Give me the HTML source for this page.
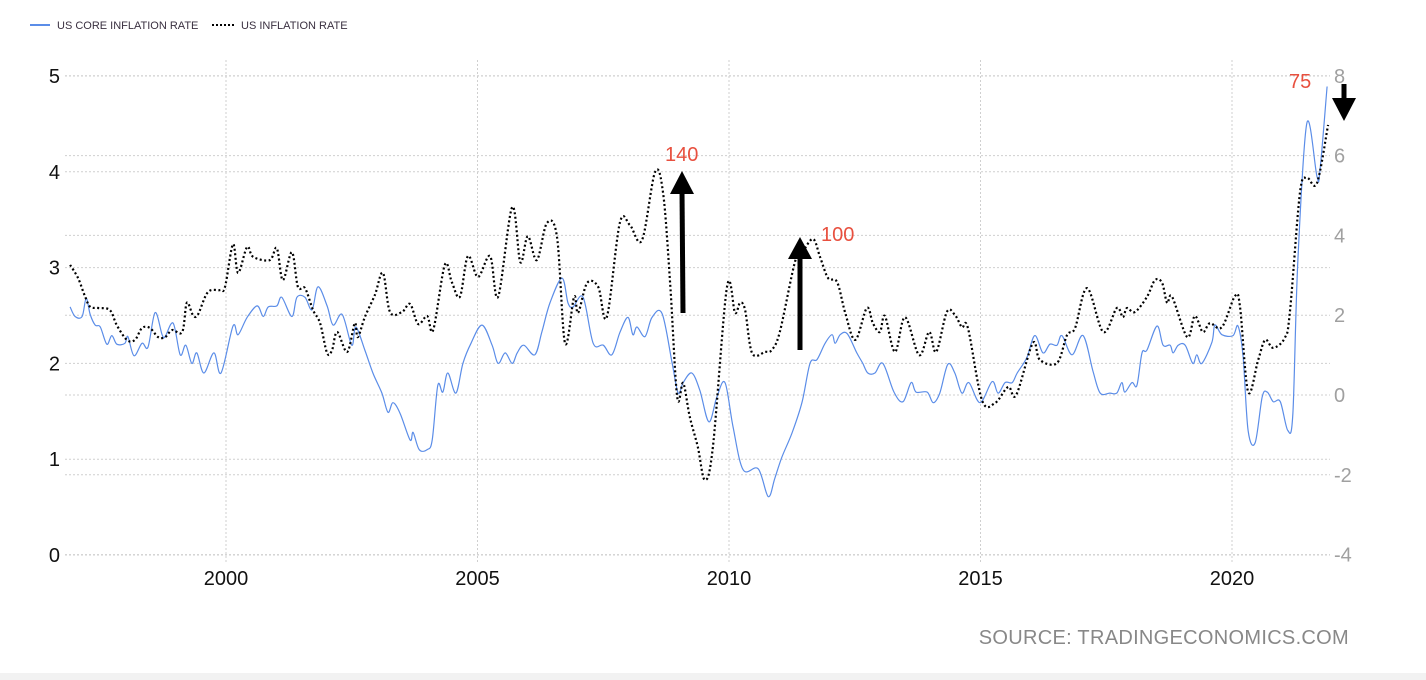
<!DOCTYPE html>
<html><head><meta charset="utf-8"><style>
html,body{margin:0;padding:0;background:#fff;}
body{width:1426px;height:680px;overflow:hidden;position:relative;font-family:"Liberation Sans",sans-serif;}
svg{position:absolute;left:0;top:0;}
</style></head><body>
<svg id="chart" width="1426" height="680" xmlns="http://www.w3.org/2000/svg">
  <g id="grid"></g>
  <g id="axes"></g>
  <g id="series"></g>
  <g>
    <line x1="30" y1="25" x2="50" y2="25" stroke="#5b8de8" stroke-width="2"/>
    <text x="57" y="29" font-size="11" fill="#3a3040">US CORE INFLATION RATE</text>
    <line x1="212" y1="25" x2="235" y2="25" stroke="#000" stroke-width="2" stroke-dasharray="2,2"/>
    <text x="241" y="29" font-size="11" fill="#3a3040">US INFLATION RATE</text>
  </g>
  <g>
    <text x="665" y="161" font-size="20" fill="#e8503f">140</text>
    <line x1="683" y1="313" x2="682" y2="190" stroke="#000" stroke-width="5"/>
    <polygon points="670,194 694,194 682,171" fill="#000"/>
    <text x="821" y="241" font-size="20" fill="#e8503f">100</text>
    <line x1="800" y1="350" x2="800" y2="255" stroke="#000" stroke-width="5"/>
    <polygon points="788,259 812,259 800,237" fill="#000"/>
    <text x="1289" y="88" font-size="20" fill="#e8503f">75</text>
    <line x1="1344" y1="84" x2="1344" y2="102" stroke="#000" stroke-width="5"/>
    <polygon points="1332,98 1356,98 1344,121" fill="#000"/>
  </g>
  <text x="1349" y="644" font-size="20" fill="#888" text-anchor="end" letter-spacing="0.3">SOURCE: TRADINGECONOMICS.COM</text>
  <rect x="0" y="673" width="1426" height="7" fill="#f2f2f2"/>
</svg>
<script>
const coreDates=[1996.90,1997.00,1997.14,1997.22,1997.30,1997.40,1997.50,1997.63,1997.73,1997.83,1997.99,1998.05,1998.17,1998.33,1998.45,1998.59,1998.73,1998.79,1998.95,1999.09,1999.20,1999.32,1999.42,1999.56,1999.76,1999.90,2000.14,2000.24,2000.42,2000.62,2000.74,2000.84,2001.01,2001.11,2001.31,2001.41,2001.57,2001.71,2001.83,2002.01,2002.13,2002.31,2002.50,2002.58,2002.76,2002.92,2003.10,2003.22,2003.32,2003.46,2003.66,2003.72,2003.84,2004.00,2004.10,2004.21,2004.31,2004.41,2004.57,2004.71,2004.87,2005.09,2005.29,2005.41,2005.55,2005.69,2005.79,2005.92,2006.14,2006.28,2006.44,2006.68,2006.80,2006.90,2007.10,2007.30,2007.50,2007.67,2007.83,2007.99,2008.09,2008.17,2008.33,2008.47,2008.67,2008.87,2008.99,2009.09,2009.26,2009.42,2009.60,2009.76,2009.92,2010.08,2010.28,2010.58,2010.78,2010.91,2011.05,2011.25,2011.45,2011.61,2011.75,2011.91,2012.05,2012.11,2012.21,2012.35,2012.54,2012.66,2012.76,2012.90,2013.06,2013.28,2013.46,2013.62,2013.72,2013.94,2014.06,2014.19,2014.35,2014.49,2014.63,2014.77,2014.99,2015.23,2015.35,2015.49,2015.63,2015.73,2015.92,2016.08,2016.24,2016.38,2016.52,2016.62,2016.82,2017.04,2017.24,2017.38,2017.57,2017.71,2017.81,2017.87,2018.01,2018.11,2018.21,2018.31,2018.51,2018.63,2018.77,2018.83,2018.93,2019.07,2019.22,2019.30,2019.40,2019.60,2019.66,2019.80,2020.02,2020.12,2020.22,2020.32,2020.46,2020.60,2020.70,2020.82,2020.96,2021.11,2021.21,2021.31,2021.49,2021.69,2021.75,2021.89];
const coreValues=[2.59,2.49,2.49,2.68,2.51,2.40,2.38,2.20,2.29,2.20,2.21,2.28,2.08,2.21,2.17,2.53,2.30,2.28,2.42,2.09,2.19,2.00,2.11,1.90,2.11,1.90,2.39,2.30,2.48,2.60,2.49,2.59,2.60,2.69,2.49,2.69,2.69,2.56,2.80,2.60,2.40,2.51,2.19,2.38,2.14,1.90,1.69,1.49,1.59,1.48,1.20,1.28,1.10,1.10,1.20,1.77,1.70,1.90,1.69,2.00,2.21,2.40,2.19,2.00,2.11,2.00,2.11,2.19,2.09,2.33,2.63,2.89,2.63,2.59,2.69,2.21,2.19,2.09,2.32,2.48,2.30,2.38,2.28,2.48,2.52,2.00,1.69,1.80,1.90,1.72,1.39,1.65,1.80,1.34,0.89,0.90,0.61,0.80,1.02,1.27,1.59,2.00,2.04,2.21,2.30,2.21,2.30,2.31,2.11,2.00,1.90,1.90,2.00,1.70,1.60,1.80,1.70,1.70,1.59,1.69,1.99,1.90,1.69,1.80,1.59,1.81,1.69,1.80,1.80,1.90,2.06,2.29,2.11,2.20,2.19,2.29,2.09,2.29,1.91,1.69,1.69,1.69,1.80,1.70,1.80,1.77,2.11,2.14,2.39,2.19,2.19,2.11,2.19,2.19,2.00,2.09,2.00,2.22,2.40,2.30,2.29,2.39,2.07,1.30,1.17,1.65,1.70,1.60,1.60,1.30,1.48,3.08,4.51,3.95,4.02,4.89];
const inflDates=[1996.90,1997.06,1997.20,1997.30,1997.46,1997.69,1997.83,1998.03,1998.19,1998.33,1998.49,1998.65,1998.79,1998.93,1999.13,1999.22,1999.34,1999.44,1999.64,1999.88,1999.98,2000.14,2000.24,2000.42,2000.54,2000.87,2001.01,2001.13,2001.31,2001.43,2001.57,2001.73,2001.87,2002.01,2002.11,2002.21,2002.41,2002.56,2002.62,2002.76,2002.96,2003.12,2003.26,2003.50,2003.66,2003.82,2004.00,2004.12,2004.35,2004.49,2004.65,2004.81,2005.01,2005.25,2005.41,2005.69,2005.85,2006.00,2006.18,2006.38,2006.58,2006.74,2006.92,2007.00,2007.18,2007.40,2007.57,2007.83,2008.03,2008.27,2008.53,2008.69,2008.83,2008.97,2009.09,2009.22,2009.38,2009.52,2009.68,2009.96,2010.12,2010.22,2010.32,2010.46,2010.72,2010.85,2011.01,2011.31,2011.45,2011.67,2011.81,2011.97,2012.15,2012.31,2012.51,2012.74,2012.86,2013.00,2013.10,2013.30,2013.50,2013.78,2013.98,2014.12,2014.33,2014.49,2014.63,2014.75,2015.03,2015.29,2015.55,2015.71,2016.04,2016.18,2016.52,2016.72,2016.88,2017.12,2017.44,2017.71,2017.83,2017.91,2018.07,2018.31,2018.47,2018.61,2018.71,2018.81,2019.11,2019.26,2019.42,2019.56,2019.80,2020.06,2020.16,2020.32,2020.52,2020.66,2020.82,2021.05,2021.15,2021.35,2021.49,2021.69,2021.91];
const inflValues=[3.26,2.93,2.46,2.21,2.18,2.13,1.75,1.38,1.38,1.68,1.68,1.45,1.45,1.63,1.58,2.31,2.01,2.01,2.58,2.63,2.71,3.78,3.06,3.71,3.46,3.38,3.68,2.88,3.58,2.71,2.68,2.13,1.80,1.05,1.13,1.58,1.08,1.80,1.45,1.95,2.51,3.06,2.08,2.08,2.28,1.78,1.98,1.63,3.26,2.83,2.46,3.48,2.96,3.48,2.46,4.71,3.33,3.98,3.38,4.31,3.96,1.30,2.46,2.06,2.81,2.71,1.95,4.31,4.26,3.88,5.59,5.06,2.81,-0.05,0.30,-0.55,-1.30,-2.13,-1.30,2.71,2.06,2.31,2.13,1.05,1.08,1.13,1.58,3.33,3.56,3.91,3.46,2.93,2.83,2.06,1.38,2.18,1.80,1.58,1.98,1.08,1.95,1.00,1.58,1.08,2.08,2.01,1.70,1.68,-0.13,-0.20,0.20,0.00,1.30,0.88,0.80,1.50,1.68,2.68,1.58,2.18,1.95,2.18,2.08,2.46,2.88,2.81,2.31,2.46,1.45,1.98,1.58,1.80,1.70,2.48,2.21,0.08,0.88,1.38,1.18,1.43,2.06,5.06,5.44,5.31,6.77];
const leftTicks=[0,1,2,3,4,5];
const rightTicks=[-4,-2,0,2,4,6,8];
const xTicks=[2000,2005,2010,2015,2020];

const NS='http://www.w3.org/2000/svg';
const X0=226, XPY=50.3;
function xScale(y){return X0+(y-2000)*XPY;}
function yLeft(v){return 555-v*95.8;}
function yRight(v){return 395-v*39.9;}
function mk(tag,attrs,parent){const e=document.createElementNS(NS,tag);for(const k in attrs)e.setAttribute(k,attrs[k]);parent.appendChild(e);return e;}
const grid=document.getElementById('grid'), axes=document.getElementById('axes'), series=document.getElementById('series');

leftTicks.forEach(t=>{
  const y=yLeft(t);
  const l=mk('line',{x1:65,x2:1330,y1:y,y2:y,stroke:'#cfcfcf','stroke-width':1,'stroke-dasharray':'2,2'},grid);
  
  
  const tx=mk('text',{x:60,y:y+7,'font-size':20,fill:'#111','text-anchor':'end'},axes);
  tx.textContent=t;
  
  
});
rightTicks.forEach(t=>{
  const y=yRight(t);
  const l=mk('line',{x1:65,x2:1330,y1:y,y2:y,stroke:'#cfcfcf','stroke-width':1,'stroke-dasharray':'2,2'},grid);
  
  
  const tx=mk('text',{x:1334,y:y+7,'font-size':20,fill:'#a0a0a0','text-anchor':'start'},axes);
  tx.textContent=t;
  
  
});
xTicks.forEach(t=>{
  const x=xScale(t);
  const l=mk('line',{x1:x,x2:x,y1:60,y2:563,stroke:'#cfcfcf','stroke-width':1,'stroke-dasharray':'2,2'},grid);
  
  
  const tx=mk('text',{x:x,y:585,'font-size':20,fill:'#111','text-anchor':'middle'},axes);
  tx.textContent=t;
  
  
});

function smoothPath(pts){
  let d='M'+pts[0][0].toFixed(1)+','+pts[0][1].toFixed(1);
  for(let i=0;i<pts.length-1;i++){
    const p0=pts[Math.max(0,i-1)],p1=pts[i],p2=pts[i+1],p3=pts[Math.min(pts.length-1,i+2)];
    const c1x=p1[0]+(p2[0]-p0[0])/6,c1y=p1[1]+(p2[1]-p0[1])/6;
    const c2x=p2[0]-(p3[0]-p1[0])/6,c2y=p2[1]-(p3[1]-p1[1])/6;
    d+=' C'+c1x.toFixed(1)+','+c1y.toFixed(1)+' '+c2x.toFixed(1)+','+c2y.toFixed(1)+' '+p2[0].toFixed(1)+','+p2[1].toFixed(1);
  }
  return d;
}
const corePts=coreDates.map((d,i)=>[xScale(d),yLeft(coreValues[i])]);
const inflPts=inflDates.map((d,i)=>[xScale(d),yRight(inflValues[i])]);
const cp=mk('path',{d:smoothPath(corePts),fill:'none',stroke:'#5b8de8','stroke-width':1.2},series);


const ip=mk('path',{d:smoothPath(inflPts),fill:'none',stroke:'#000','stroke-width':2.2,'stroke-dasharray':'2,2.5'},series);


</script>
</body></html>
